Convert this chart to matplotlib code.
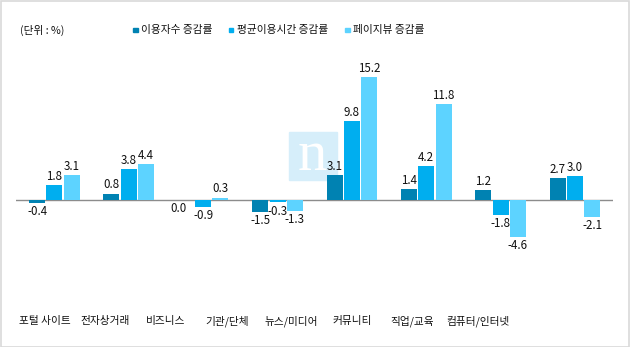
import matplotlib
matplotlib.use("Agg")
import matplotlib.pyplot as plt
from matplotlib.patches import Rectangle
import numpy as np

plt.rcParams['font.family'] = ['Noto Sans CJK KR', 'DejaVu Sans']

categories = ['포털 사이트', '전자상거래', '비즈니스', '기관/단체', '뉴스/미디어', '커뮤니티', '직업/교육', '컴퓨터/인터넷']
users = [-0.4, 0.8, 0.0, -1.5, 3.1, 1.4, 1.2, 2.7]
avg_time = [1.8, 3.8, -0.9, -0.3, 9.8, 4.2, -1.8, 3.0]
pageviews = [3.1, 4.4, 0.3, -1.3, 15.2, 11.8, -4.6, -2.1]
series_names = ['이용자수 증감률', '평균이용시간 증감률', '페이지뷰 증감률']
unit_label = '(단위 : %)'
watermark = 'n'

colors = ['#0082B2', '#00AEEF', '#5DD3FF']
W, H = 630, 347
fig = plt.figure(figsize=(W / 100, H / 100), dpi=100)

# axes: x from 15.7 to 613 px, y from 60 to 260 px (top-down)
ax = fig.add_axes([15.7 / W, (H - 260) / H, (613 - 15.7) / W, 200 / H])
ax.patch.set_visible(False)
ax.set_xlim(-0.52, 7.51)
ax.set_ylim(-60 / 8.1, 140 / 8.1)
for s in ax.spines.values():
    s.set_visible(False)
ax.set_xticks([])
ax.set_yticks([])
ax.axhline(0, color='#8C8C8C', lw=1.0, zorder=1)

x = np.arange(len(categories))
bw = 0.215
step = 0.233
for k, (vals, c) in enumerate(zip([users, avg_time, pageviews], colors)):
    xs = x + (k - 1) * step
    ax.bar(xs, vals, width=bw, color=c, zorder=2)
    for xi, v in zip(xs, vals):
        if v > 0:
            ax.annotate(f'{v:.1f}', (xi, v), xytext=(0, 1.5), textcoords='offset points',
                        ha='center', va='bottom', fontsize=8.3, color='#111111', zorder=3)
        else:
            ax.annotate(f'{v:.1f}', (xi, v), xytext=(-5 if v == 0 else 0, -1.5), textcoords='offset points',
                        ha='center', va='top', fontsize=8.3, color='#111111', zorder=3)

# category labels (positioned as in reference)
label_x = [44.5, 105.5, 166, 227, 291, 352, 412, 478]
for lx, cat in zip(label_x, categories):
    fig.text(lx / W, 1 - 321 / H, cat, ha='center', va='center', fontsize=7.7, color='#111111')

# unit + legend
fig.text(20 / W, 1 - 30 / H, unit_label, ha='left', va='center', fontsize=7.7, color='#111111')
leg_x = [133, 229, 345]
for lx, name, c in zip(leg_x, series_names, colors):
    fig.patches.append(Rectangle((lx / W, 1 - 32 / H), 4.5 / W, 4.5 / H,
                                 transform=fig.transFigure, color=c, figure=fig))
    fig.text((lx + 8) / W, 1 - 30 / H, name, ha='left', va='center', fontsize=7.7, color='#111111')

# watermark
fig.patches.append(Rectangle((289 / W, 1 - 180 / H), 48 / W, 48 / H, transform=fig.transFigure,
                             color='#D6EEFA', zorder=-1, figure=fig))
fig.text(312 / W, 1 - 170 / H, watermark, ha='center', va='baseline', fontsize=42,
         family='Liberation Serif', color='white', zorder=-0.5)

# figure border
fig.patches.append(Rectangle((0.5 / W, 0.5 / H), (W - 1.5) / W, (H - 1.5) / H, transform=fig.transFigure,
                             fill=False, edgecolor='#D9D9D9', lw=1.2, figure=fig))

fig.savefig('out.png', dpi=100)
